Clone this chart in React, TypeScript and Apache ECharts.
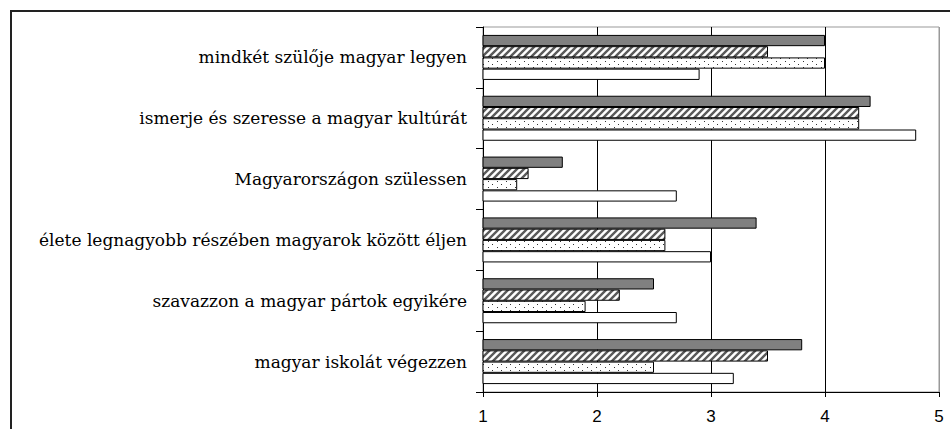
import React, { useEffect, useRef } from "react";
import * as echarts from "echarts";

const categories = [
  "mindkét szülője magyar legyen",
  "ismerje és szeresse a magyar kultúrát",
  "Magyarországon szülessen",
  "élete legnagyobb részében magyarok között éljen",
  "szavazzon a magyar pártok egyikére",
  "magyar iskolát végezzen",
];

const seriesDark = [4.0, 4.4, 1.7, 3.4, 2.5, 3.8];
const seriesHatched = [3.5, 4.3, 1.4, 2.6, 2.2, 3.5];
const seriesDotted = [4.0, 4.3, 1.3, 2.6, 1.9, 2.5];
const seriesWhite = [2.9, 4.8, 2.7, 3.0, 2.7, 3.2];

const xTicks = [1, 2, 3, 4, 5];

function makeHatch(): HTMLCanvasElement {
  const c = document.createElement("canvas");
  c.width = 7;
  c.height = 7;
  const ctx = c.getContext("2d")!;
  ctx.fillStyle = "#ffffff";
  ctx.fillRect(0, 0, 7, 7);
  ctx.strokeStyle = "#5a5a5a";
  ctx.lineWidth = 2.4;
  ctx.beginPath();
  ctx.moveTo(-1, 8);
  ctx.lineTo(8, -1);
  ctx.moveTo(-5, 5);
  ctx.lineTo(5, -5);
  ctx.moveTo(2, 12);
  ctx.lineTo(12, 2);
  ctx.stroke();
  return c;
}

function makeDots(): HTMLCanvasElement {
  const c = document.createElement("canvas");
  c.width = 9;
  c.height = 6;
  const ctx = c.getContext("2d")!;
  ctx.fillStyle = "#ffffff";
  ctx.fillRect(0, 0, 9, 6);
  ctx.fillStyle = "#333333";
  ctx.fillRect(2, 1, 1, 1);
  ctx.fillRect(6, 4, 1, 1);
  return c;
}

export default function App() {
  const ref = useRef<HTMLDivElement>(null);
  useEffect(() => {
    if (!ref.current) return;
    const chart = echarts.init(ref.current, undefined, { renderer: "svg" });
    const hatch = makeHatch();
    const dots = makeDots();
    const border = { borderColor: "#000", borderWidth: 1 };
    const common = {
      type: "bar" as const,
      barGap: "0%",
      barCategoryGap: "26%",
    };
    chart.setOption({
      animation: false,
      backgroundColor: "#ffffff",
      grid: {
        left: 483,
        right: 11,
        top: 27,
        bottom: 37,
        show: true,
        borderColor: "#999999",
        borderWidth: 1,
        backgroundColor: "transparent",
      },
      xAxis: {
        type: "value",
        min: xTicks[0],
        max: xTicks[xTicks.length - 1],
        interval: 1,
        axisLine: { show: true, lineStyle: { color: "#000", width: 1 } },
        axisTick: { show: true, length: 5, lineStyle: { color: "#000" } },
        axisLabel: {
          color: "#000",
          fontFamily: "Liberation Sans, Arial, sans-serif",
          fontSize: 17,
          margin: 16,
        },
        splitLine: {
          show: true,
          lineStyle: { color: ["#000", "#000", "#000", "#000", "#999"], width: 1 },
        },
      },
      yAxis: {
        type: "category",
        data: categories,
        inverse: true,
        axisLine: { show: true, lineStyle: { color: "#000", width: 1 } },
        axisTick: { show: true, length: 7, lineStyle: { color: "#000" } },
        axisLabel: {
          color: "#000",
          fontFamily: "DejaVu Serif, serif",
          fontSize: 17,
          margin: 16,
        },
        splitLine: { show: false },
      },
      series: [
        { ...common, name: "dark", data: seriesDark, itemStyle: { color: "#808080", ...border } },
        { ...common, name: "hatched", data: seriesHatched, itemStyle: { color: { image: hatch, repeat: "repeat" }, ...border } },
        { ...common, name: "dotted", data: seriesDotted, itemStyle: { color: { image: dots, repeat: "repeat" }, ...border } },
        { ...common, name: "white", data: seriesWhite, itemStyle: { color: "#ffffff", ...border } },
      ],
      graphic: [
        {
          type: "rect",
          shape: { x: 11, y: 11, width: 1000, height: 1000 },
          style: { fill: "none", stroke: "#222", lineWidth: 2 },
          silent: true,
          z: 100,
        },
      ],
    });
    return () => chart.dispose();
  }, []);
  return (
    <div
      ref={ref}
      style={{ position: "absolute", left: 0, top: 0, width: 950, height: 429 }}
    />
  );
}
